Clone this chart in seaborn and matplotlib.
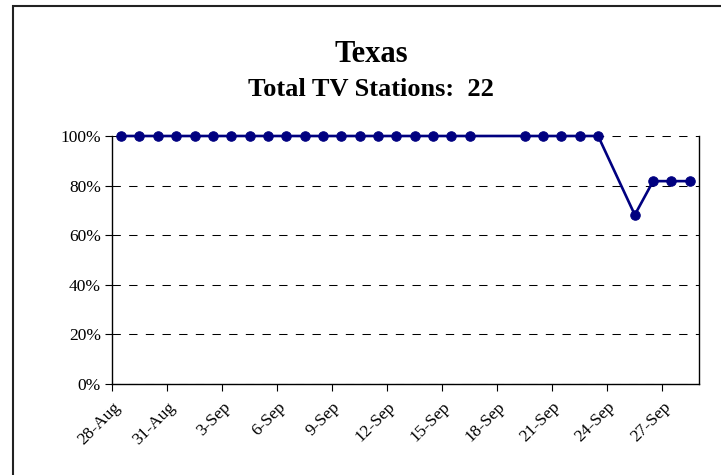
import matplotlib
matplotlib.use("Agg")
import matplotlib.pyplot as plt
import matplotlib.patches as mpatches
from matplotlib.ticker import PercentFormatter
import pandas as pd
import seaborn as sns

TITLE = "Texas"
SUBTITLE = "Total TV Stations:  22"

DATES = [
    "2005-08-28", "2005-08-29", "2005-08-30", "2005-08-31",
    "2005-09-01", "2005-09-02", "2005-09-03", "2005-09-04",
    "2005-09-05", "2005-09-06", "2005-09-07", "2005-09-08",
    "2005-09-09", "2005-09-10", "2005-09-11", "2005-09-12",
    "2005-09-13", "2005-09-14", "2005-09-15", "2005-09-16",
    "2005-09-19", "2005-09-20", "2005-09-21", "2005-09-22",
    "2005-09-23", "2005-09-25", "2005-09-26", "2005-09-27",
    "2005-09-28",
]
# share of stations on air
ON_AIR = [
    1.0, 1.0, 1.0, 1.0,
    1.0, 1.0, 1.0, 1.0,
    1.0, 1.0, 1.0, 1.0,
    1.0, 1.0, 1.0, 1.0,
    1.0, 1.0, 1.0, 1.0,
    1.0, 1.0, 1.0, 1.0,
    1.0, 0.682, 0.818, 0.818,
    0.818,
]
TICK_START = "2005-08-28"
TICK_END = "2005-09-27"
X_START = "2005-08-28"
X_END = "2005-09-29"

NAVY = "#000080"


def main():
    sns.set_style("white")
    plt.rcParams["font.family"] = ["Liberation Serif", "DejaVu Serif"]
    plt.rcParams["text.color"] = "black"

    df = pd.DataFrame({"date": pd.to_datetime(DATES), "on_air": ON_AIR})
    # Excel date axis puts each point in the middle of its day
    df["x"] = df["date"] + pd.Timedelta(hours=12)

    fig = plt.figure(figsize=(7.21, 4.75), dpi=100)
    ax = fig.add_axes([0.1553, 0.1916, 0.8142, 0.5221])

    sns.lineplot(data=df, x="x", y="on_air", ax=ax, color=NAVY, lw=1.9,
                 marker="o", markersize=6.8, markeredgecolor=NAVY,
                 markerfacecolor=NAVY, zorder=3, clip_on=False)

    ax.set_ylim(0, 1)
    ax.set_yticks([0, 0.2, 0.4, 0.6, 0.8, 1.0])
    ax.yaxis.set_major_formatter(PercentFormatter(1.0, decimals=0))
    ax.set_xlim(pd.Timestamp(X_START), pd.Timestamp(X_END))
    ticks = pd.date_range(TICK_START, TICK_END, freq="3D")
    ax.set_xticks(ticks)
    ax.set_xticklabels([f"{t.day}-{t.strftime('%b')}" for t in ticks],
                       rotation=45, ha="right", rotation_mode="anchor")
    ax.set_xlabel("")
    ax.set_ylabel("")

    ax.yaxis.grid(True, color="black", lw=0.75, linestyle=(0, (8, 8)))
    ax.xaxis.grid(False)
    ax.set_axisbelow(True)
    for side in ["left", "bottom", "right"]:
        ax.spines[side].set_color("black")
        ax.spines[side].set_linewidth(1.0)
    ax.spines["top"].set_visible(False)

    ax.tick_params(axis="both", direction="out", length=5, width=0.8,
                   color="black", labelsize=12.5, labelcolor="black")
    ax.tick_params(axis="y", pad=3)
    ax.tick_params(axis="x", pad=6)
    ax.tick_params(left=True, bottom=True)

    fig.text(0.5155, 0.869, TITLE, ha="center", va="baseline",
             fontsize=22, fontweight="bold", color="black")
    fig.text(0.5145, 0.798, SUBTITLE, ha="center", va="baseline",
             fontsize=19, fontweight="bold", color="black")

    # chart area border, runs off the right and bottom edges
    border = mpatches.Rectangle((13 / 721, -0.1), 1.2, 1.1 - 6 / 475,
                                transform=fig.transFigure, fill=False,
                                edgecolor="#222222", lw=1.5, clip_on=False)
    fig.patches.append(border)

    fig.savefig("out.png", dpi=100)


if __name__ == "__main__":
    main()
